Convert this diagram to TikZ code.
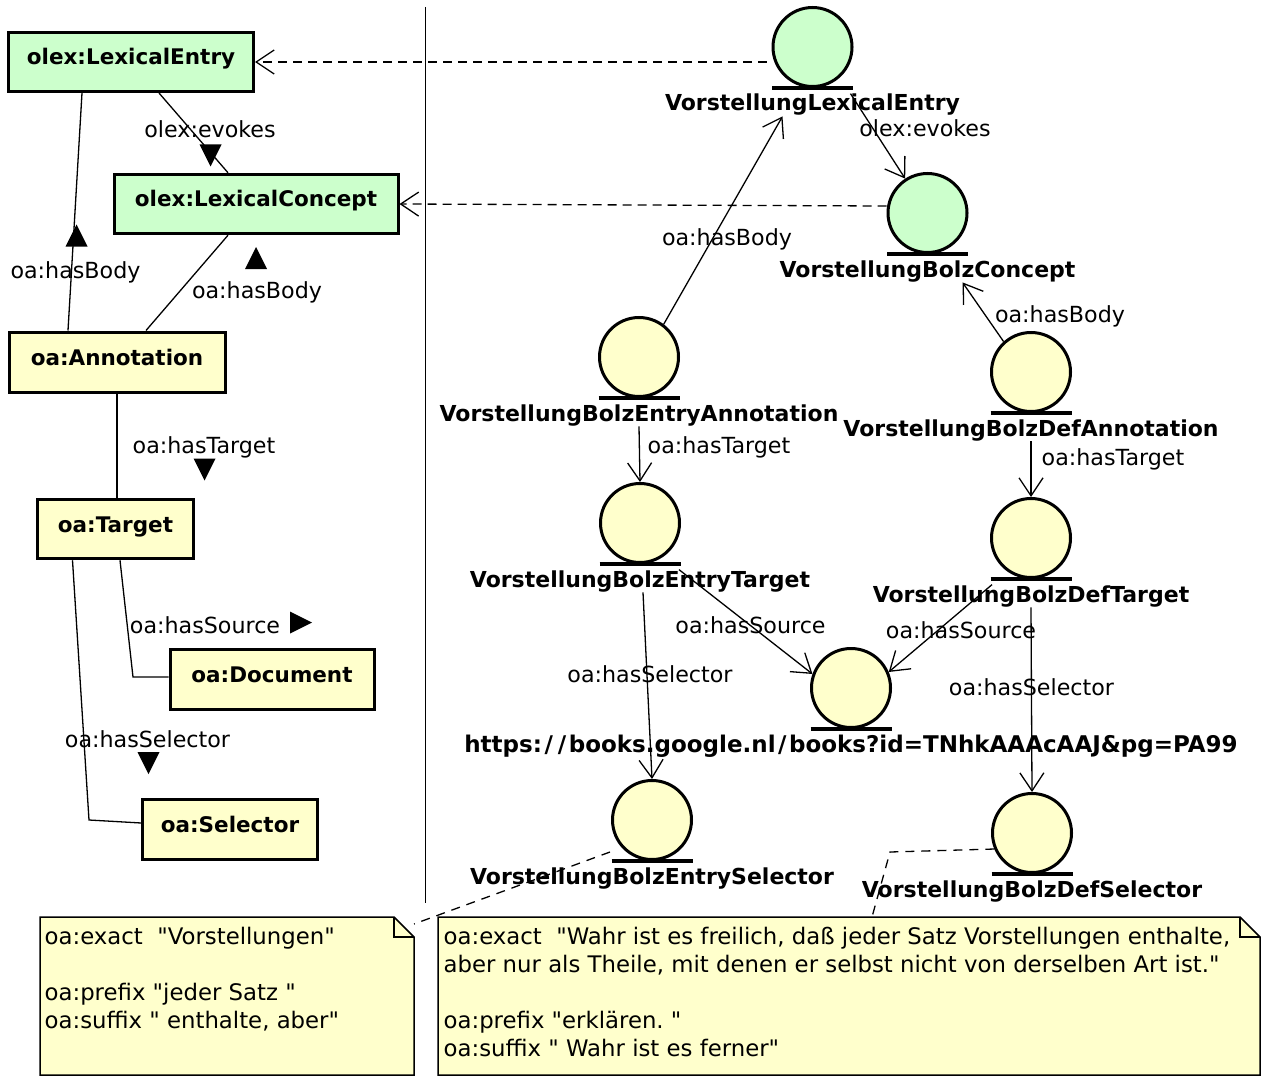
\documentclass[tikz,border=0pt]{standalone}
\usepackage{fontspec}
\setmainfont{DejaVu Sans}[Ligatures=TeXOff]
\usetikzlibrary{arrows.meta}
\frenchspacing

\definecolor{lexgreen}{RGB}{204,255,204}
\definecolor{oayellow}{RGB}{255,255,204}

\newcommand{\diagfont}{\fontsize{21.5}{28}\selectfont}
\newcommand{\rolefont}{\fontsize{22.2}{28}\selectfont}
\newcommand{\notefont}{\fontsize{22.8}{28}\selectfont}
\newcommand{\urlslash}{\kern2.5pt/\kern2.5pt}
% object icon: circle, bar underneath, bold name below
\newcommand{\umlentity}[4]{%
  \node[entity, fill=#3] (#1) at (#2) {};
  \draw[entitybar] ([xshift=-40.5pt]#1.south) -- ([xshift=40.5pt]#1.south);
  \node[entityname] (#1-l) at ([yshift=-23pt]#1.south) {#4};
}
% filled direction triangle of an association name
\newcommand{\dirmark}[2]{\fill[shift={(#1)}, rotate=#2] (-11,-11) -- (11,-11) -- (0,11) -- cycle;}

\begin{document}
\begin{tikzpicture}[x=1pt,y=-1pt,line width=1.3pt,font=\diagfont,
  classbox/.style={draw, line width=3pt, inner sep=0pt, text height=13pt, text depth=7pt, font=\diagfont\bfseries},
  entity/.style={circle, draw, line width=3pt, minimum size=79pt, inner sep=0pt},
  entitybar/.style={line width=4pt},
  entityname/.style={anchor=base, inner sep=0pt, font=\fontsize{22}{28}\selectfont\bfseries},
  rolename/.style={anchor=base, inner sep=0pt, font=\rolefont},
  assoc/.style={-{Straight Barb[length=18pt,width=24pt]}},
  realize/.style={dash pattern=on 9pt off 6pt, -{Straight Barb[length=18pt,width=24pt]}},
  anchorline/.style={dash pattern=on 9pt off 7pt},
  notebox/.style={inner sep=0pt, outer sep=0pt, anchor=north west},
  noteline/.style={draw, fill=oayellow, line width=1.5pt},
  notetext/.style={anchor=north west, align=left, inner sep=0pt, font=\notefont},
]
\useasboundingbox (0,0) rectangle (1266,1086);

%% ontology classes (left)
\node[classbox, fill=lexgreen, minimum width=245pt, minimum height=59pt] (le) at (131,62) {olex:LexicalEntry};
\node[classbox, fill=lexgreen, minimum width=284pt, minimum height=59.5pt] (lc) at (256,204) {olex:LexicalConcept};
\node[classbox, fill=oayellow, minimum width=216pt, minimum height=60pt] (ann) at (117,362) {oa:Annotation};
\node[classbox, fill=oayellow, minimum width=156pt, minimum height=59.5pt] (tgt) at (115.5,529) {oa:Target};
\node[classbox, fill=oayellow, minimum width=204pt, minimum height=60pt] (doc) at (272,679) {oa:Document};
\node[classbox, fill=oayellow, minimum width=174.5pt, minimum height=60pt] (sel) at (230,829) {oa:Selector};

\draw ([xshift=28pt]le.south) -- ([xshift=-28pt]lc.north);
\draw ([xshift=-49pt]ann.north) -- ([xshift=-49pt]le.south);
\draw ([xshift=29pt]ann.north) -- ([xshift=-28pt]lc.south);
\draw (ann.south) -- (ann.south |- tgt.north);
\coordinate (docbend) at (133,677);
\draw ([xshift=4.5pt]tgt.south) -- (docbend) -- (docbend -| doc.west);
\coordinate (selbend) at (89,820);
\draw ([xshift=-43pt]tgt.south) -- (selbend) -- ([yshift=6pt]sel.west);

\node[rolename] (evokes1) at (210,138) {olex:evokes};
\node[rolename] (body1) at (75.5,278) {oa:hasBody};
\node[rolename] (body2) at (257,298) {oa:hasBody};
\node[rolename] (target1) at (204,453) {oa:hasTarget};
\node[rolename] (source1) at (205,633) {oa:hasSource};
\node[rolename] (selector1) at (147.5,747) {oa:hasSelector};

\dirmark{210.5,155.5}{0}
\dirmark{76.5,235.5}{180}
\dirmark{256,258}{180}
\dirmark{204.5,469.5}{0}
\dirmark{301,622.5}{90}
\dirmark{148.5,763}{0}

%% separator
\coordinate (septop) at (425.5,7);
\coordinate (sepbot) at (425.5,903);
\draw[line width=1.5pt] (septop) -- (sepbot);

%% instances (right)
\umlentity{vle}{812.5,47}{lexgreen}{VorstellungLexicalEntry}
\umlentity{bc}{927.5,213}{lexgreen}{VorstellungBolzConcept}
\umlentity{ea}{639,357}{oayellow}{VorstellungBolzEntryAnnotation}
\umlentity{da}{1031,372}{oayellow}{VorstellungBolzDefAnnotation}
\umlentity{et}{640,523}{oayellow}{VorstellungBolzEntryTarget}
\umlentity{dt}{1031,538}{oayellow}{VorstellungBolzDefTarget}
\umlentity{src}{851,688}{oayellow}{\fontsize{23}{28}\selectfont https:\urlslash\urlslash books.google.nl\urlslash books?id=TNhkAAAcAAJ\&pg=PA99}
\umlentity{es}{652,820}{oayellow}{VorstellungBolzEntrySelector}
\umlentity{ds}{1032,833}{oayellow}{VorstellungBolzDefSelector}

\draw[realize] ([xshift=-5pt,yshift=-15pt]vle.west) -- (le.east);
\draw[realize] ([yshift=7pt]bc.west) -- (lc.east);

\draw[assoc] (ea.53) -- ([xshift=-30pt]vle-l.south);
\draw[assoc] ([xshift=38pt]vle-l.north) -- (bc.123);
\draw[assoc] (da.132) -- ([xshift=35pt]bc-l.south);
\draw[assoc] (ea-l.south) -- (et.north);
\draw[assoc] (da-l.south) -- (dt.north);
\draw[assoc] ([xshift=39pt]et-l.north) -- (src.160);
\draw[assoc] ([xshift=-39pt]dt-l.north) -- (src.23);
\draw[assoc] ([xshift=3pt]et-l.south) -- (es.north);
\draw[assoc] (dt-l.south) -- (ds.north);

\node[rolename] (body3) at (727,245) {oa:hasBody};
\node[rolename] (evokes2) at (925,137) {olex:evokes};
\node[rolename] (body4) at (1060,322) {oa:hasBody};
\node[rolename] (target2) at (719,453) {oa:hasTarget};
\node[rolename] (target3) at (1113,465) {oa:hasTarget};
\node[rolename] (source2) at (750.5,633) {oa:hasSource};
\node[rolename] (source3) at (961,638) {oa:hasSource};
\node[rolename] (selector2) at (650,682) {oa:hasSelector};
\node[rolename] (selector3) at (1031.5,695) {oa:hasSelector};

%% notes
\node[notebox, minimum width=374pt, minimum height=158pt] (noteL) at (40,917) {};
\draw[noteline] (noteL.north west) -- ([xshift=-20pt]noteL.north east) -- ([yshift=-20pt]noteL.north east) -- (noteL.south east) -- (noteL.south west) -- cycle;
\draw[line width=1.5pt] ([xshift=-20pt]noteL.north east) |- ([yshift=-20pt]noteL.north east);
\node[notetext] (noteL-t) at ([xshift=4pt,yshift=-10pt]noteL.north west) {oa:exact\ \ "Vorstellungen"\\[28pt] oa:prefix "jeder Satz "\\ oa:suffix " enthalte, aber"};

\node[notebox, minimum width=822pt, minimum height=158pt] (noteR) at (438,917) {};
\draw[noteline] (noteR.north west) -- ([xshift=-20pt]noteR.north east) -- ([yshift=-20pt]noteR.north east) -- (noteR.south east) -- (noteR.south west) -- cycle;
\draw[line width=1.5pt] ([xshift=-20pt]noteR.north east) |- ([yshift=-20pt]noteR.north east);
\node[notetext] (noteR-t) at ([xshift=5pt,yshift=-10pt]noteR.north west) {oa:exact\ \ "Wahr ist es freilich, daß jeder Satz Vorstellungen enthalte,\\ aber nur als Theile, mit denen er selbst nicht von derselben Art ist."\\[28pt] oa:prefix "erklären. "\\ oa:suffix " Wahr ist es ferner"};

\draw[anchorline] ([xshift=-42pt,yshift=-32pt]es.center) -- ([yshift=-7pt]noteL.north east);
\coordinate (dsbend) at (890,852);
\draw[anchorline] (ds.203) -- (dsbend) -- ([xshift=434pt]noteR.north west);

\end{tikzpicture}
\end{document}
